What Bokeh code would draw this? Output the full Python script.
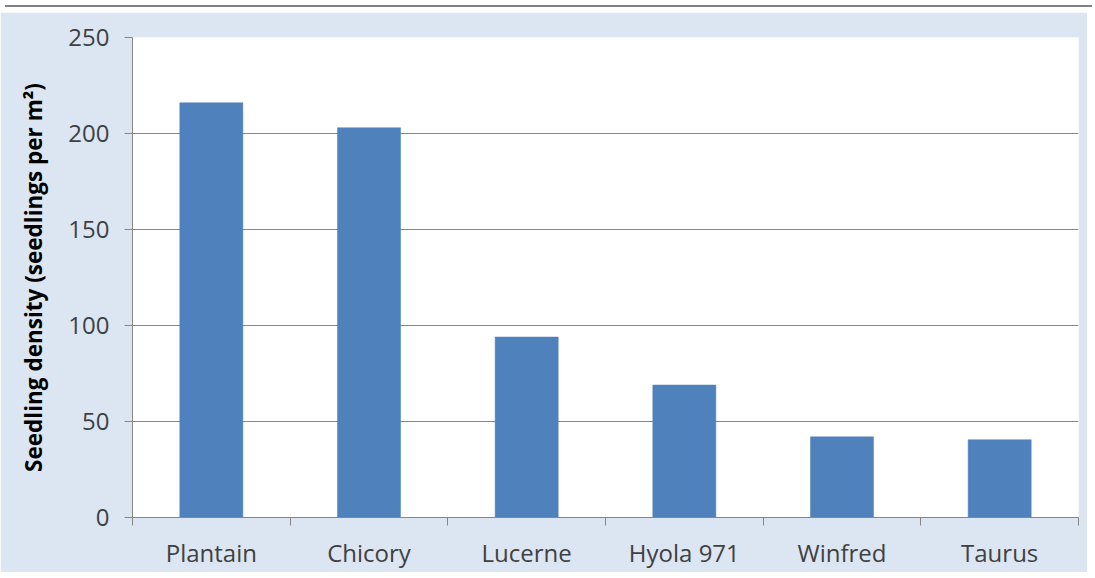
from bokeh.plotting import figure
from bokeh.models import Range1d, FixedTicker, Div
from bokeh.layouts import column
from bokeh.embed import file_html
from bokeh.resources import INLINE

categories = ["Plantain", "Chicory", "Lucerne", "Hyola 971", "Winfred", "Taurus"]
density = [216, 203, 94, 69, 42, 40.5]
y_ticks = [0, 50, 100, 150, 200, 250]

BG = "#dce6f2"
GRID = "#868686"
BAR = "#4f81bd"
FONT = "Open Sans"

n = len(categories)
centers = [i + 0.5 for i in range(n)]
bounds = [float(i) for i in range(n + 1)]

p = figure(
    frame_width=946, frame_height=480,
    min_border_left=132, min_border_right=9, min_border_top=25, min_border_bottom=55,
    x_range=Range1d(0, n), y_range=Range1d(0, 250),
    output_backend="svg", toolbar_location=None,
)
p.background_fill_color = "white"
p.border_fill_color = BG
p.outline_line_color = None

p.vbar(x=centers, top=density, width=0.4, fill_color=BAR, line_color=BAR, line_width=0.5)

# y axis
ya = p.yaxis[0]
ya.ticker = FixedTicker(ticks=y_ticks)
ya.axis_line_color = GRID
ya.major_tick_line_color = GRID
ya.major_tick_out = 8
ya.major_tick_in = 0
ya.minor_tick_line_color = None
ya.major_label_text_font = FONT
ya.major_label_text_font_size = "24px"
ya.major_label_text_color = "#404040"
ya.major_label_standoff = 15
ya.axis_label = "Seedling density (seedlings per m\u00b2)"
ya.axis_label_text_font = FONT
ya.axis_label_text_font_size = "22.5px"
ya.axis_label_text_font_style = "bold"
ya.axis_label_text_color = "#000000"
ya.axis_label_standoff = 16

# x axis: labels at centers, tick marks at category boundaries
xa = p.xaxis[0]
xa.ticker = FixedTicker(ticks=centers, minor_ticks=bounds)
xa.major_label_overrides = {c: lab for c, lab in zip(centers, categories)}
xa.axis_line_color = GRID
xa.major_tick_line_color = None
xa.major_tick_out = 0
xa.major_tick_in = 0
xa.minor_tick_line_color = GRID
xa.minor_tick_out = 8
xa.minor_tick_in = 0
xa.major_label_text_font = FONT
xa.major_label_text_font_size = "24px"
xa.major_label_text_color = "#404040"
xa.major_label_standoff = 10

p.xgrid.grid_line_color = None
p.ygrid.ticker = FixedTicker(ticks=y_ticks)
p.ygrid.grid_line_color = GRID
p.ygrid.grid_line_width = 1

top_line = Div(text="", width=1087, height=2, styles={"background-color": "#808080"})
layout = column(top_line, p, spacing=0)

open("out.html", "w").write(file_html(layout, INLINE))
